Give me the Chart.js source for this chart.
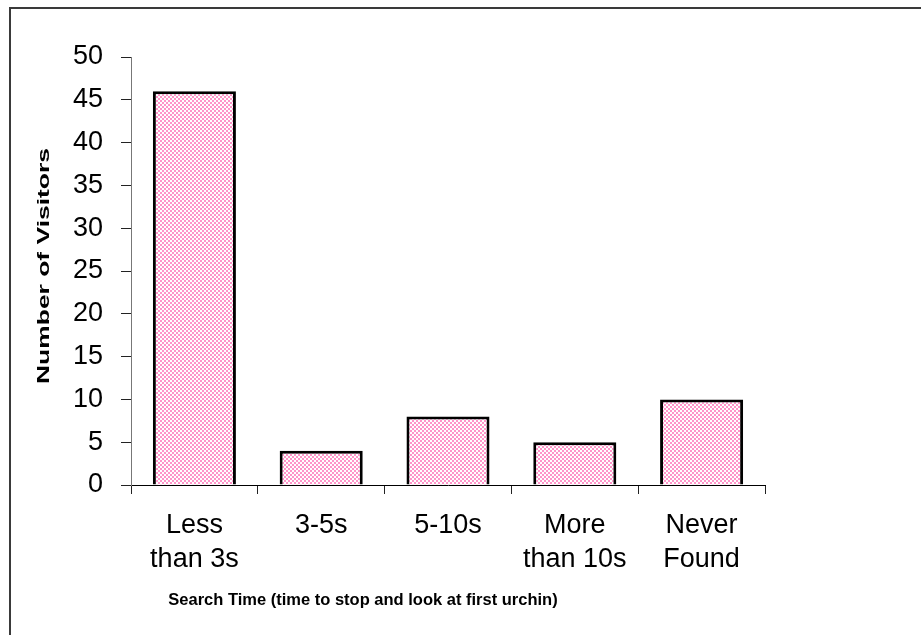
<!DOCTYPE html>
<html>
<head>
<meta charset="utf-8">
<script src="https://cdn.jsdelivr.net/npm/chart.js@4/dist/chart.umd.min.js"></script>
<style>
  html, body { margin: 0; padding: 0; background: #fff; overflow: hidden; }
  #wrap { position: relative; width: 921px; height: 635px; }
  #frame { position: absolute; left: 9px; top: 7px; width: 1000px; height: 700px;
           border-left: 2px solid #3a3a3a; border-top: 2px solid #3a3a3a; box-sizing: border-box; }
  canvas { position: absolute; left: 0; top: 0; }
</style>
</head>
<body>
<div id="wrap">
  <div id="frame"></div>
  <canvas id="chart" width="921" height="635"></canvas>
</div>
<script>
// chart data
const categories = [['Less', 'than 3s'], '3-5s', '5-10s', ['More', 'than 10s'], ['Never', 'Found']];
const visitors = [46, 4, 8, 5, 10];
const yTicks = [0, 5, 10, 15, 20, 25, 30, 35, 40, 45, 50];
const xTitle = 'Search Time (time to stop and look at first urchin)';
const yTitle = 'Number of Visitors';

const FONT = '"Liberation Sans", Arial, sans-serif';

// pink checkerboard fill like the old Excel pattern
function makePattern() {
  const c = document.createElement('canvas');
  c.width = 4; c.height = 4;
  const g = c.getContext('2d');
  g.fillStyle = '#fff';
  g.fillRect(0, 0, 4, 4);
  g.fillStyle = '#ff94c9';
  g.fillRect(0, 0, 2, 2);
  g.fillRect(2, 2, 2, 2);
  return g.createPattern(c, 'repeat');
}

// axis titles drawn by hand so they sit where the original has them
const axisTitles = {
  id: 'axisTitles',
  afterDraw(chart) {
    const ctx = chart.ctx;
    const area = chart.chartArea;
    ctx.save();
    ctx.fillStyle = '#000';
    ctx.font = 'bold 16.5px ' + FONT;
    ctx.textAlign = 'center';
    ctx.textBaseline = 'middle';
    ctx.fillText(xTitle, 363, 600);

    // y title is stretched along its length in the original
    ctx.font = 'bold 16px ' + FONT;
    const w = ctx.measureText(yTitle).width;
    const target = 236;
    ctx.translate(45, (area.top + area.bottom) / 2 - 5);
    ctx.rotate(-Math.PI / 2);
    ctx.scale(target / w, 1);
    ctx.fillText(yTitle, 0, 0);
    ctx.restore();
  }
};

const ctx = document.getElementById('chart').getContext('2d');
new Chart(ctx, {
  type: 'bar',
  data: {
    labels: categories,
    datasets: [{
      data: visitors,
      backgroundColor: makePattern(),
      borderColor: '#000',
      borderWidth: 3,
      borderSkipped: 'bottom',
      categoryPercentage: 1,
      barPercentage: 0.655
    }]
  },
  options: {
    responsive: false,
    animation: false,
    layout: { padding: { left: 0, right: 156, top: 57, bottom: 0 } },
    plugins: { legend: { display: false }, tooltip: { enabled: false } },
    scales: {
      x: {
        grid: { drawOnChartArea: false, drawTicks: true, tickLength: 9, color: '#222', offset: true },
        border: { color: '#000', width: 1 },
        ticks: { color: '#000', font: { family: FONT, size: 27, lineHeight: 1.26 }, padding: 15, maxRotation: 0, autoSkip: false },
        afterFit(s) { s.height = 150; }
      },
      y: {
        min: 0,
        max: 50,
        afterBuildTicks(s) { s.ticks = yTicks.map(v => ({ value: v })); },
        grid: { drawOnChartArea: false, drawTicks: true, tickLength: 10, color: '#222' },
        border: { color: '#777', width: 1 },
        ticks: { color: '#000', font: { family: FONT, size: 27 }, padding: 18 },
        afterFit(s) { s.width = 131; }
      }
    }
  },
  plugins: [axisTitles]
});
</script>
</body>
</html>
